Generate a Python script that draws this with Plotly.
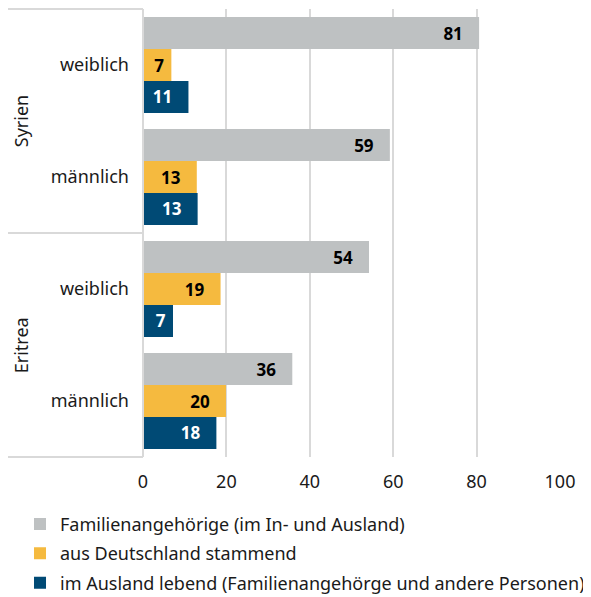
import plotly.graph_objects as go

countries = ["Syrien", "Syrien", "Eritrea", "Eritrea"]
genders = ["weiblich", "männlich", "weiblich", "männlich"]
series_names = [
    "Familienangehörige (im In- und Ausland)",
    "aus Deutschland stammend",
    "im Ausland lebend (Familienangehörge und andere Personen)",
]
familie = [80.6, 59.2, 54.2, 35.8]
deutschland = [6.8, 12.9, 18.6, 19.9]
ausland = [10.9, 13.1, 7.2, 17.6]
x_ticks = [0, 20, 40, 60, 80, 100]

colors = ["#BEC1C2", "#F5BA3F", "#004A75"]
text_colors = ["#000000", "#000000", "#FFFFFF"]
FONT = "Noto Sans"

cats = [f"{c} – {g}" for c, g in zip(countries, genders)]

fig = go.Figure()
for name, vals, col, tcol in zip(series_names, [familie, deutschland, ausland], colors, text_colors):
    labels = [f"{v:.0f}" + "\u00a0" * (3 if v >= 10 else 1) for v in vals]
    fig.add_trace(go.Bar(
        y=cats, x=vals, orientation="h", name=name,
        marker=dict(color=col, line=dict(width=0)),
        text=labels, textposition="inside", insidetextanchor="end",
        textangle=0, constraintext="none",
        textfont=dict(family=FONT, size=17, color=tcol, weight="bold"),
        legendgroup=name, hoverinfo="x+y",
    ))

# page body has an 8px default margin, so the figure is sized to fit the window
fig.update_layout(
    width=583, height=589,
    margin=dict(l=135, r=31, t=1, b=140, autoexpand=False),
    barmode="group", bargap=0.143, bargroupgap=0,
    plot_bgcolor="white", paper_bgcolor="white",
    font=dict(family=FONT, size=18, color="#1a1a1a"),
    legend=dict(
        orientation="v", xref="container", yref="container",
        x=0.0206, xanchor="left", y=0.155, yanchor="top",
        font=dict(family=FONT, size=18, color="#1a1a1a"),
        tracegroupgap=3, traceorder="grouped",
    ),
    xaxis=dict(
        range=[0, 100], tickvals=x_ticks, showgrid=True, automargin=False,
        gridcolor="#D9D9D9", gridwidth=1.5, zeroline=False, showline=False,
        ticks="", ticklabelstandoff=12, tickfont=dict(size=18),
    ),
    yaxis=dict(
        type="category", categoryorder="array", categoryarray=cats,
        autorange="reversed", tickvals=cats, ticktext=genders, automargin=False,
        showgrid=False, zeroline=False, showline=False, ticks="",
        ticklabelstandoff=13, tickfont=dict(size=18),
    ),
)

# Frame lines of the category label area
line_style = dict(color="#D9D9D9", width=2)
for yv in [0, 0.5, 1]:
    fig.add_shape(type="line", xref="paper", yref="paper",
                  x0=-0.33, x1=0, y0=yv, y1=yv, line=line_style)
fig.add_shape(type="line", xref="paper", yref="paper",
              x0=0, x1=0, y0=0, y1=1, line=line_style)

for country, yc in [("Syrien", 0.75), ("Eritrea", 0.25)]:
    fig.add_annotation(text=country, xref="paper", yref="paper",
                       x=-0.292, y=yc, xanchor="center", yanchor="middle",
                       showarrow=False, textangle=-90,
                       font=dict(family=FONT, size=18, color="#1a1a1a"))

fig.write_html("out.html")
